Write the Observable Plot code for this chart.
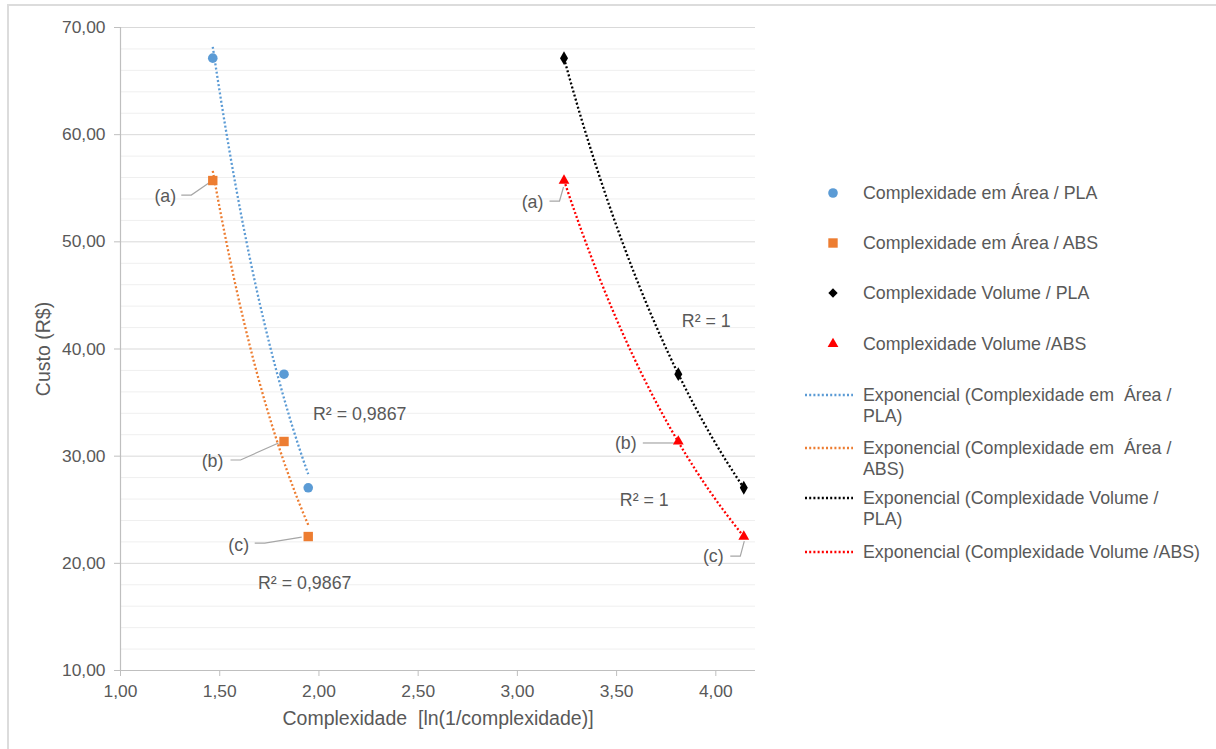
<!DOCTYPE html>
<html>
<head>
<meta charset="utf-8">
<script src="https://cdn.jsdelivr.net/npm/d3@7"></script>
<script src="https://cdn.jsdelivr.net/npm/@observablehq/plot@0.6"></script>
<style>
  html, body { margin: 0; padding: 0; background: #fff; }
  #wrap { position: relative; width: 1216px; height: 749px; overflow: hidden; background: #fff;
          font-family: "Liberation Sans", Arial, sans-serif; color: #595959; }
  #frame { position: absolute; left: 7px; top: 4px; width: 1300px; height: 800px; border: 2px solid #dcdcdc; box-sizing: border-box; }
  #chart { position: absolute; left: 0; top: 0; }
  #legend { position: absolute; left: 0; top: 0; width: 1216px; height: 749px; pointer-events: none; }
  .leg { position: absolute; font-size: 17.8px; line-height: 20.5px; white-space: nowrap; color: #595959; }
</style>
</head>
<body>
<div id="wrap">
  <div id="frame"></div>
  <div id="chart"></div>
  <div id="legend"></div>
</div>
<script>
// ---- Data ----
const areaX = [1.465, 1.824, 1.946];      // ln(1/complexidade) – área
const volX = [3.235, 3.811, 4.141];       // ln(1/complexidade) – volume
const plaCost = [67.14, 37.65, 27.05];    // Custo (R$) PLA
const absCost = [55.72, 31.37, 22.50];    // Custo (R$) ABS
const pointLabels = ["(a)", "(b)", "(c)"];
const seriesNames = [
  "Complexidade em Área / PLA",
  "Complexidade em Área / ABS",
  "Complexidade Volume / PLA",
  "Complexidade Volume /ABS"
];
const trendNames = [
  ["Exponencial (Complexidade em  Área /", "PLA)"],
  ["Exponencial (Complexidade em  Área /", "ABS)"],
  ["Exponencial (Complexidade Volume /", "PLA)"],
  ["Exponencial (Complexidade Volume /ABS)"]
];
const rSquaredText = ["R² = 0,9867", "R² = 0,9867", "R² = 1", "R² = 1"];
const xTicks = [1.0, 1.5, 2.0, 2.5, 3.0, 3.5, 4.0];
const yTicks = [10, 20, 30, 40, 50, 60, 70];
const yMinorTicks = [12, 14, 16, 18, 22, 24, 26, 28, 32, 34, 36, 38, 42, 44, 46, 48, 52, 54, 56, 58, 62, 64, 66, 68];
const xTitle = "Complexidade  [ln(1/complexidade)]";
const yTitle = "Custo (R$)";

// ---- Styling ----
const seriesStyle = [
  {color: "#5b9bd5", symbol: "circle", r: 4.8},
  {color: "#ed7d31", symbol: "square", r: 5.3},
  {color: "#000000", symbol: "diamond", r: 4.2},
  {color: "#ff0000", symbol: "triangle", r: 4.0}
];
const seriesXY = [[areaX, plaCost], [areaX, absCost], [volX, plaCost], [volX, absCost]];

const points = [];
seriesXY.forEach(([xs, ys], s) => xs.forEach((x, i) => points.push({s, i, x, y: ys[i]})));

// Exponential trend lines (least squares on ln y), as Excel draws them
function expFit(xs, ys) {
  const ly = ys.map(Math.log);
  const mx = d3.mean(xs), my = d3.mean(ly);
  const b = d3.sum(xs, (x, i) => (x - mx) * (ly[i] - my)) / d3.sum(xs, x => (x - mx) ** 2);
  const a = my - b * mx;
  return x => Math.exp(a + b * x);
}
const trend = [];
seriesXY.forEach(([xs, ys], s) => {
  const f = expFit(xs, ys);
  const [x0, x1] = d3.extent(xs);
  const n = 60;
  for (let k = 0; k <= n; k++) {
    const x = x0 + (x1 - x0) * k / n;
    trend.push({s, x, y: f(x)});
  }
});

// Annotation offsets (pixels, relative to the labelled point)
const leaders = [
  {s: 1, i: 0, t: [-47, 16], p: [[-31, 15], [-21, 15], [-2, 2]]},
  {s: 1, i: 1, t: [-71, 20], p: [[-53, 19], [-43, 19], [-5, 2]]},
  {s: 1, i: 2, t: [-69, 9],  p: [[-53, 7], [-43, 7], [-6, 1]]},
  {s: 3, i: 0, t: [-31, 22], p: [[-14, 21], [-4, 21], [0, 7]]},
  {s: 3, i: 1, t: [-52, 2],  p: [[-35, 2], [-4, 2]]},
  {s: 3, i: 2, t: [-30, 20], p: [[-13, 20], [-3, 20], [1, 5]]}
];
// R² label anchors relative to last point of each series (pixels)
const r2Offsets = [[52, -73], [-3, 47], [-37, -166], [-99, -36]];

const fmt = d => d.toFixed(2).replace(".", ",");

function annotations(index, scales) {
  const g = d3.create("svg:g").attr("font-family", "Liberation Sans, Arial, sans-serif").attr("font-size", 17.8);
  leaders.forEach(L => {
    const px = scales.x(seriesXY[L.s][0][L.i]);
    const py = scales.y(seriesXY[L.s][1][L.i]);
    g.append("path")
      .attr("d", d3.line()(L.p.map(([dx, dy]) => [px + dx, py + dy])))
      .attr("fill", "none").attr("stroke", "#a6a6a6").attr("stroke-width", 1.2);
    g.append("text").attr("x", px + L.t[0]).attr("y", py + L.t[1])
      .attr("text-anchor", "middle").attr("dominant-baseline", "central")
      .attr("fill", "#595959").text(pointLabels[L.i]);
  });
  seriesXY.forEach(([xs, ys], s) => {
    const px = scales.x(xs[2]), py = scales.y(ys[2]);
    g.append("text").attr("x", px + r2Offsets[s][0]).attr("y", py + r2Offsets[s][1])
      .attr("text-anchor", "middle").attr("dominant-baseline", "central")
      .attr("fill", "#595959").text(rSquaredText[s]);
  });
  return g.node();
}

const chart = Plot.plot({
  width: 780,
  height: 749,
  marginLeft: 120,
  marginRight: 25,
  marginTop: 27,
  marginBottom: 79,
  style: {fontFamily: "Liberation Sans, Arial, sans-serif", fontSize: "17.4px", color: "#595959", background: "transparent", overflow: "visible"},
  x: {domain: [1, 4.2]},
  y: {domain: [10, 70]},
  marks: [
    Plot.gridY(yMinorTicks, {stroke: "#efefef", strokeOpacity: 1, strokeWidth: 1}),
    Plot.gridY(yTicks, {stroke: "#d9d9d9", strokeOpacity: 1, strokeWidth: 1}),
    Plot.ruleX([1], {stroke: "#bfbfbf", strokeWidth: 1.2}),
    Plot.ruleY([10], {stroke: "#bfbfbf", strokeWidth: 1.2}),
    Plot.axisY(yTicks, {tickSize: 6, stroke: "#bfbfbf", strokeOpacity: 1, text: null, label: null}),
    Plot.axisY(yTicks, {tickSize: 0, tickPadding: 15, fill: "#595959", tickFormat: fmt, label: null}),
    Plot.axisY({tickSize: 0, ticks: [], fill: "#595959",
      label: yTitle, labelAnchor: "center", labelArrow: "none", labelOffset: 84}),
    Plot.axisX(xTicks, {tickSize: 6, stroke: "#bfbfbf", strokeOpacity: 1, text: null, label: null}),
    Plot.axisX(xTicks, {tickSize: 0, tickPadding: 14, fill: "#595959", tickFormat: fmt, label: null}),
    Plot.axisX({tickSize: 0, ticks: [], fill: "#595959",
      label: xTitle, labelAnchor: "center", labelArrow: "none", labelOffset: 54}),
    Plot.line(trend, {x: "x", y: "y", z: "s", stroke: d => seriesStyle[d.s].color,
      strokeWidth: 2.3, strokeDasharray: "2,2.2", strokeLinecap: "butt"}),
    annotations,
    ...seriesStyle.map((st, s) => Plot.dot(points.filter(p => p.s === s),
      {x: "x", y: "y", symbol: st.symbol, r: st.r, fill: st.color, stroke: "none"}))
  ]
});
d3.select(chart).selectAll("text")
  .filter(function() { return this.textContent === xTitle || this.textContent === yTitle; })
  .style("font-size", "19.5px");
document.getElementById("chart").appendChild(chart);

// ---- Legend ----
const legend = document.getElementById("legend");
const legendTop = [193, 243, 293, 344];
const symSvg = (s) => {
  const st = seriesStyle[s];
  const sym = {circle: d3.symbolCircle, square: d3.symbolSquare, diamond: d3.symbolDiamond2, triangle: d3.symbolTriangle}[st.symbol];
  const path = d3.symbol(sym, st.r * st.r * Math.PI)();
  return `<svg width="20" height="20" style="position:absolute;left:-10px;top:-10px;overflow:visible"><path transform="translate(10,10)" d="${path}" fill="${st.color}"/></svg>`;
};
seriesNames.forEach((name, s) => {
  const m = document.createElement("div");
  m.className = "leg";
  m.style.left = "833px"; m.style.top = legendTop[s] + "px";
  m.innerHTML = symSvg(s);
  legend.appendChild(m);
  const t = document.createElement("div");
  t.className = "leg";
  t.style.left = "863px"; t.style.top = (legendTop[s] - 10) + "px";
  t.textContent = name;
  legend.appendChild(t);
});
const trendTop = [395, 448, 498, 552];
trendNames.forEach((lines, s) => {
  const m = document.createElement("div");
  m.className = "leg";
  m.style.left = "805px"; m.style.top = (trendTop[s] - 2) + "px";
  m.innerHTML = `<svg width="50" height="4" style="display:block"><line x1="0" y1="2" x2="48" y2="2" stroke="${seriesStyle[s].color}" stroke-width="2.3" stroke-dasharray="2,2.2"/></svg>`;
  legend.appendChild(m);
  const t = document.createElement("div");
  t.className = "leg";
  t.style.left = "863px"; t.style.top = (trendTop[s] - 10) + "px";
  t.innerHTML = lines.map(l => l.replace(/  /g, "&nbsp; ")).join("<br>");
  legend.appendChild(t);
});
</script>
</body>
</html>
